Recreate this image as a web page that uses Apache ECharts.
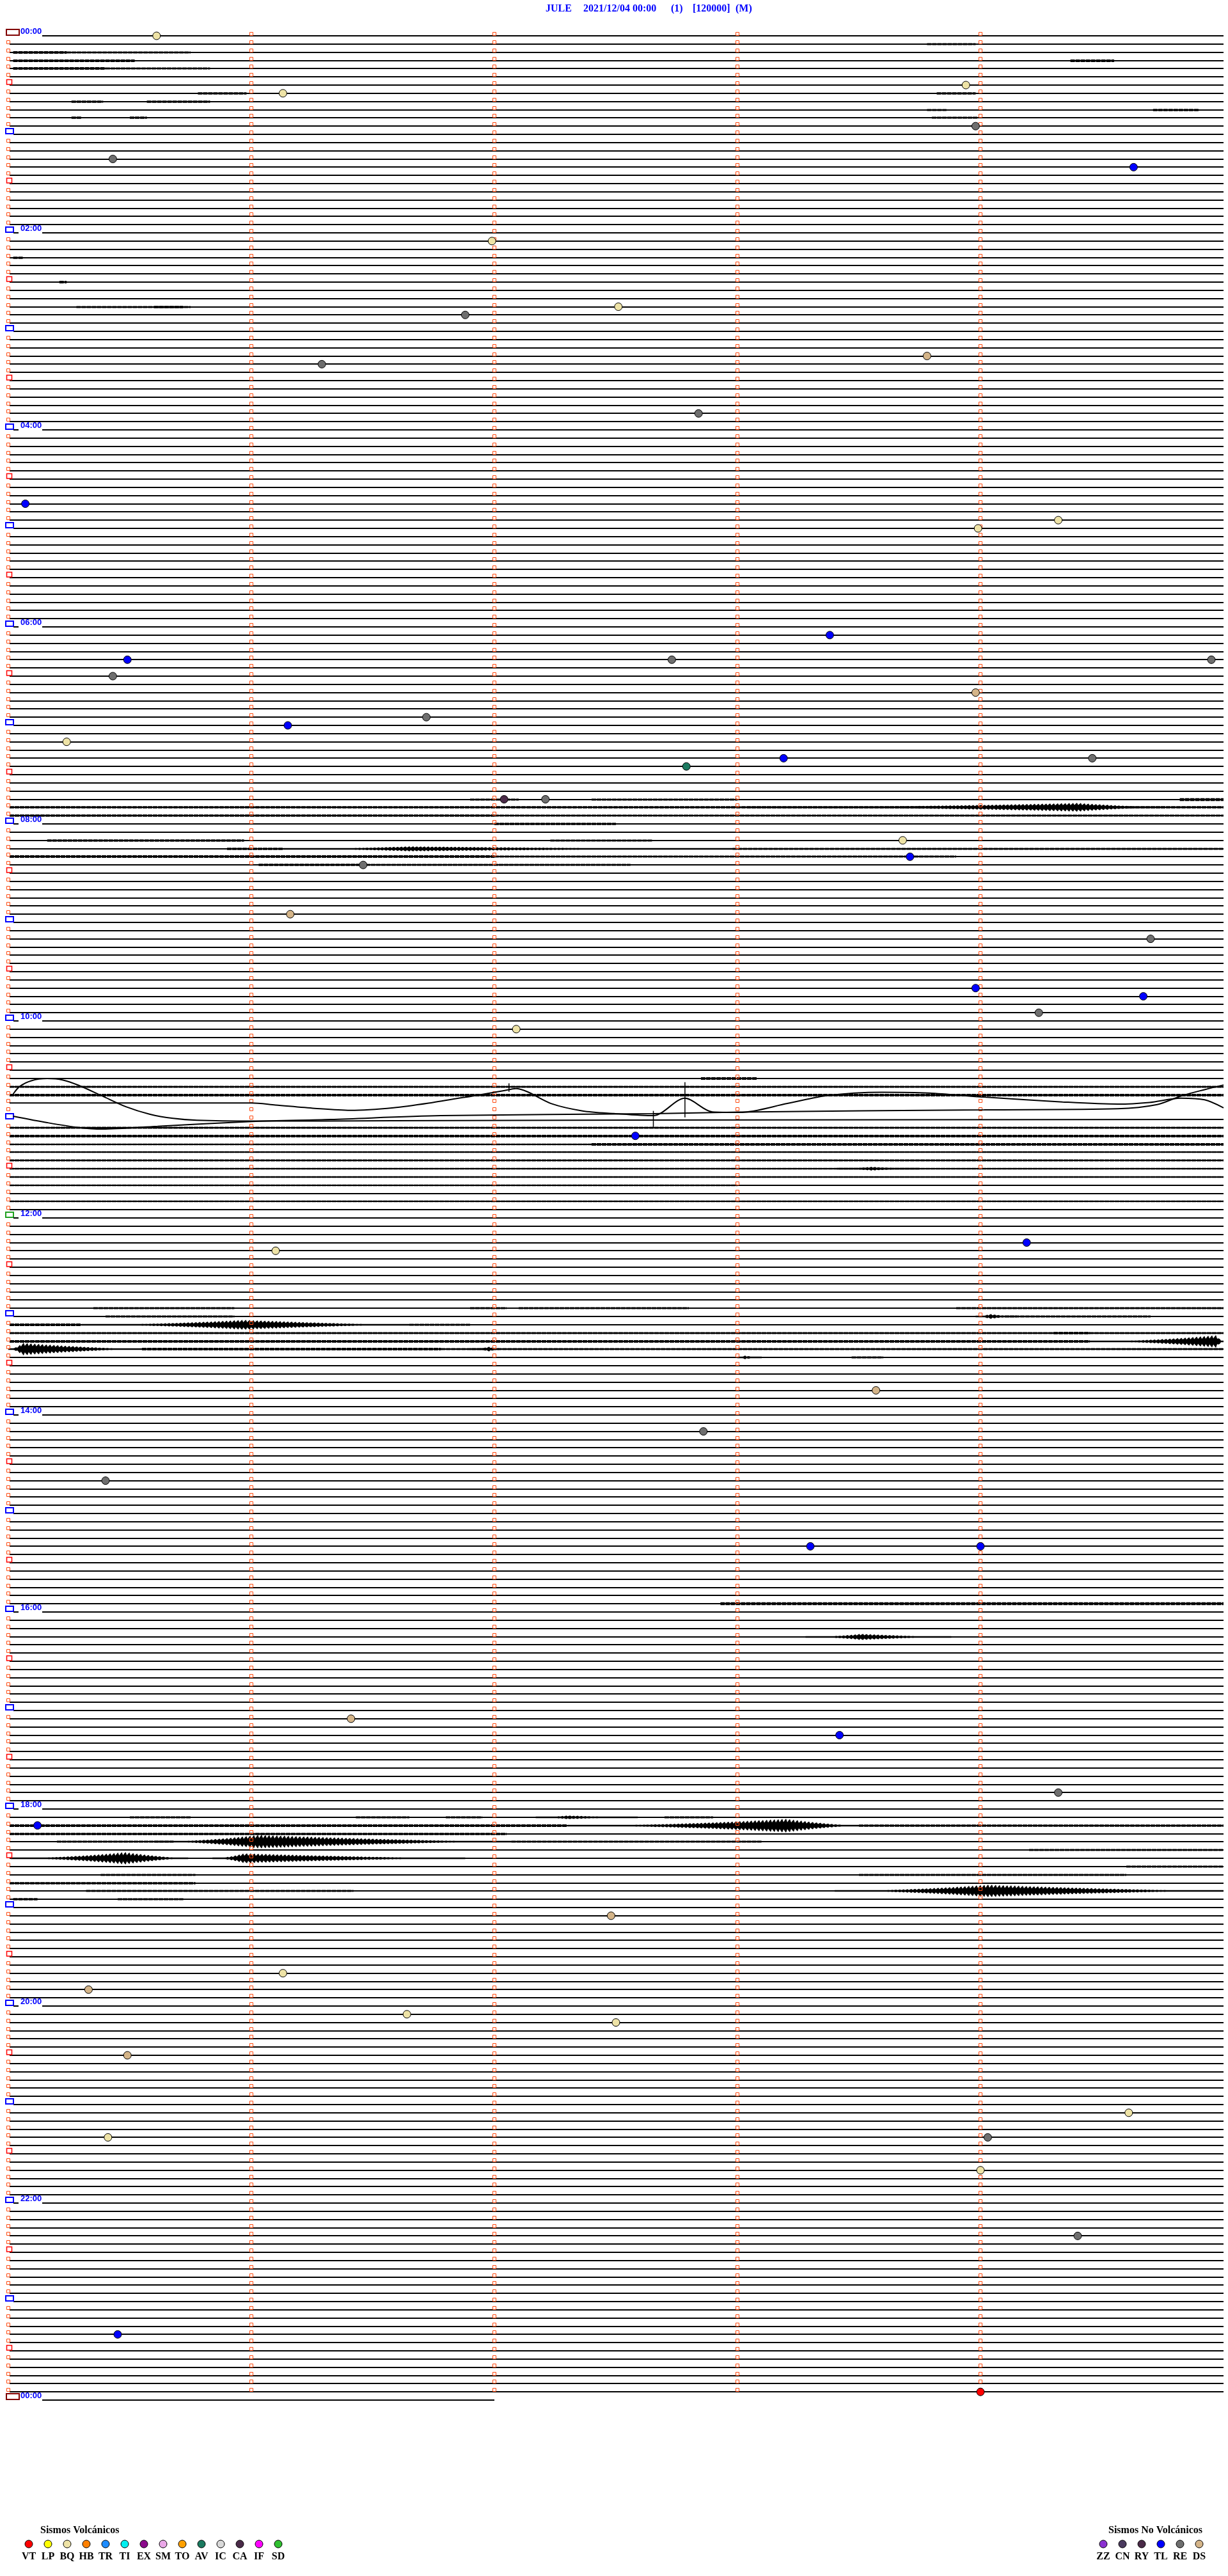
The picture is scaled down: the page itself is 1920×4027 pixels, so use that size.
<!DOCTYPE html>
<html><head><meta charset="utf-8">
<script src="https://cdn.jsdelivr.net/npm/echarts@6/dist/echarts.min.js"></script>
<style>html,body{margin:0;padding:0;background:#fff}#c{width:1920px;height:4027px}</style>
</head><body><div id="c"></div>
<script>
// ---------------- data ----------------
const ROWS = 288;            // 5-minute rows over 24 h (row 288 = next 00:00)
const ROW_MIN = 5;           // minutes per row
const lastRowEndMin = 2.0;   // the final row stops here
const hourLabels = ["00:00","02:00","04:00","06:00","08:00","10:00","12:00","14:00","16:00","18:00","20:00","22:00","00:00"];
const headerParts = ["JULE","2021/12/04 00:00","(1)","[120000]","(M)"];
const volcTitle = "Sismos Volcánicos";
const volcTypes  = ["VT","LP","BQ","HB","TR","TI","EX","SM","TO","AV","IC","CA","IF","SD"];
const volcColors = ["#FF0000","#FFFF00","#EEE3A6","#FF8000","#1E8CFF","#00F0F0","#8B0A8B","#EAA8E8","#FFA000","#1B7A60","#D8D8D8","#4A2A48","#FF00FF","#30C030"];
const novTitle = "Sismos No Volcánicos";
const novTypes  = ["ZZ","CN","RY","TL","RE","DS"];
const novColors = ["#8A30D0","#4A3A5E","#4A2A48","#0000FF","#6E6E6E","#D4B488"];

// events: minutes after 00:00, type
const eventTimes = [0.61,36.13,33.94,58.98,75.43,84.63,126.99,167.51,171.88,198.78,201.29,232.84,285.07,299.32,303.99,368.38,380.49,382.73,384.95,390.43,403.98,416.72,421.15,430.24,444.46,443.19,447.79,467.04,467.21,493.68,503.71,506.46,536.16,554.70,583.98,589.67,599.24,607.09,672.58,741.10,739.19,828.57,852.86,880.40,923.30,924.00,1026.41,1038.42,1074.32,1090.12,1147.48,1181.13,1190.33,1206.64,1212.50,1230.49,1269.61,1280.41,1284.03,1304.00,1344.40,1400.45,1439.00];
const eventKinds = ["BQ","BQ","BQ","RE","RE","TL","BQ","BQ","RE","DS","RE","RE","TL","BQ","BQ","TL","TL","RE","RE","RE","DS","RE","TL","BQ","RE","TL","AV","CA","RE","BQ","TL","RE","DS","RE","TL","TL","RE","BQ","TL","BQ","TL","DS","RE","RE","TL","TL","DS","TL","RE","TL","DS","BQ","DS","BQ","BQ","DS","BQ","BQ","RE","BQ","RE","TL","VT"];

// seismic bursts: [row, start min, peak min, end min, peak half-amplitude px]
const bursts = [
 [94,3.04,4.40,4.76,7],[99,1.13,1.65,2.98,4],[138,3.41,3.55,3.75,3],
 [156,3.98,4.04,4.15,4],[157,0.30,0.97,1.65,8],[159,4.45,4.97,5.0,10],[160,0.0,0.06,0.55,10],
 [160,1.90,1.98,2.02,4],[161,3.00,3.03,3.10,3],[195,3.28,3.51,3.88,5],
 [217,2.17,2.30,2.59,3],[218,2.30,3.20,3.50,11],[220,0.60,1.03,2.07,11],
 [222,0.01,0.48,0.74,10],[222,0.84,0.97,1.88,8],[226,3.40,4.03,5.0,10]
];
// background noise bands: [row, start min, end min, half-thickness px]
const noise = [
 [1,3.78,3.98,0.6],[2,0.02,0.24,1],[2,0.24,0.75,0.5],[3,0.02,0.52,1],[3,4.37,4.55,1],[4,0.02,0.40,1],[4,0.40,0.83,0.6],
 [7,0.78,0.98,0.8],[7,3.82,3.98,0.8],[8,0.26,0.39,0.8],[8,0.57,0.83,0.8],[9,3.78,3.86,0.6],[9,4.71,4.90,0.8],
 [10,0.26,0.30,0.8],[10,0.50,0.57,0.8],[10,3.80,3.99,0.6],
 [27,0.02,0.06,0.8],[30,0.21,0.24,1],[33,0.28,0.75,0.5],[33,0.6,0.72,0.8],
 [93,1.9,2.1,0.5],[93,2.4,3.0,0.6],[93,4.82,5.0,1.2],[94,0,5,0.8],[95,0,2.0,0.8],[95,2.0,5.0,0.4],[96,2.0,2.5,0.8],
 [98,0.16,0.97,0.8],[98,2.23,2.65,0.6],[99,0.9,1.13,0.8],[99,2.98,5.0,0.4],[100,0,2.0,0.9],[100,2.0,3.9,0.4],
 [101,1.03,1.45,0.8],[101,1.45,2.56,0.6],
 [127,2.85,3.08,1],[128,0,5,0.4],[129,0,5,1],[133,0,5,0.4],[134,0,5,1],[135,2.4,5,1],[135,0,2.4,0.3],
 [136,0,5,0.3],[137,0,5,0.5],[138,0,5,0.3],[139,0,5,0.3],[140,0,3,0.3],[142,0,5,0.3],
 [155,0.35,0.93,0.6],[155,1.9,2.05,0.6],[155,2.1,2.8,0.4],[155,3.9,5.0,0.4],[156,0.4,0.93,0.4],[156,4.1,4.7,0.4],
 [157,0,0.3,1],[157,1.65,1.9,0.6],[158,0,5,0.4],[158,4.3,4.45,0.8],[159,0,4.45,1],[160,0.55,1.78,1],[160,1.78,5,0.6],[161,3.47,3.6,0.6],
 [191,2.93,5.0,1.2],
 [217,0.5,0.75,0.6],[217,1.43,1.65,0.6],[217,1.8,1.95,0.5],[217,2.7,2.9,0.6],[218,0,2.3,1],[218,3.5,5,0.8],[219,0,2.05,0.7],
 [220,0.2,0.68,0.5],[220,2.07,3.1,0.4],[221,4.2,5.0,0.6],[223,4.6,5.0,0.6],[224,0.38,0.77,0.6],[224,3.5,4.6,0.4],
 [225,0,0.77,0.7],[226,0.32,1.42,0.6],[227,0.02,0.12,0.8],[227,0.45,0.72,0.5]
];
// long-period wave traces 10:50-11:05 (rows 130-132): [minute within row, row position]
const waveRows = [130,131,132];
const wave130 = [[0.005,130.0],[1.0,130.0],[1.099,130.24],[1.261,130.65],[1.407,130.89],[1.585,130.58],[1.747,129.93],[1.909,129.15],[2.039,128.5],[2.088,128.24],[2.136,128.63],[2.233,130.06],[2.363,130.96],[2.492,131.28],[2.654,131.54],[2.784,129.41],[2.897,131.09],[3.01,131.15],[3.205,130.06],[3.367,129.09],[3.594,128.68],[3.788,128.78],[4.015,129.28],[4.338,129.87],[4.565,130.13],[4.695,129.93],[4.824,129.41],[4.922,129.61],[5.0,130.58]];
const wave131 = [[0.02,131.61],[0.16,132.39],[0.29,132.99],[0.387,133.17],[0.614,132.83],[1.002,132.26],[1.326,132.0],[1.78,131.54],[2.654,131.3],[3.01,131.1],[4.015,130.83],[4.565,130.7],[4.727,130.19],[4.824,129.15],[4.922,128.37],[5.0,127.8]];
const wave132 = [[0.02,128.9],[0.047,127.98],[0.095,127.28],[0.16,127.02],[0.225,127.2],[0.29,127.85],[0.387,129.15],[0.484,130.45],[0.581,131.35],[0.678,131.87],[0.776,132.1],[1.0,132.2],[1.585,132.16],[2.557,132.08],[5.0,132.0]];
// sharp spikes on the wave: [minute, top row position, bottom row position]
const spikes = [[2.784,127.46,131.74],[2.654,130.96,133.04],[2.06,127.59,128.63]];

// ---------------- build ----------------
const burstByRow = {}, noiseByRow = {};
bursts.forEach(b => (burstByRow[b[0]] = burstByRow[b[0]] || []).push(b));
noise.forEach(n => (noiseByRow[n[0]] = noiseByRow[n[0]] || []).push(n));
const rowItems = [];
for (let r = 0; r <= ROWS; r++) rowItems.push([r]);

const SQ = '#FF4A10';
function renderRow(params, api) {
  const row = api.value(0);
  const p0 = api.coord([0, row]);
  const x0 = Math.round(p0[0]);
  const yb = Math.round(p0[1]);
  const y = yb;
  const ch = [];
  const isMidnight = row % ROWS === 0;
  const isEvenHour = row % 24 === 0;
  const isHour = row % 12 === 0;
  const isHalf = row % 6 === 0;
  let startPx = x0 + 2;
  if (isEvenHour) startPx = x0 + 53; else if (isHour) startPx = x0 + 8;
  const endMin = row === ROWS ? lastRowEndMin : ROW_MIN;
  const pe = api.coord([endMin, row]);
  // noise bands
  (noiseByRow[row] || []).forEach(n => {
    const a = api.coord([n[1], row]), b = api.coord([n[2], row]);
    const xa = Math.max(a[0], startPx);
    ch.push({type:'line', shape:{x1:xa, y1:y, x2:b[0], y2:y}, style:{stroke:'#000', lineWidth:2 + 2*n[3], lineDash:[7,1]}});
  });
  // bursts (amplitude envelope)
  (burstByRow[row] || []).forEach(b => {
    const top = [], bot = [];
    const a0 = api.coord([b[1], row])[0], a1 = api.coord([b[3], row])[0];
    const N = Math.max(4, Math.round((a1 - a0) / 2));
    for (let k = 0; k <= N; k++) {
      const m = b[1] + (b[3] - b[1]) * k / N;
      let f;
      if (m <= b[2]) f = b[2] > b[1] ? Math.pow((m - b[1]) / (b[2] - b[1]), 1.8) : 1;
      else f = Math.pow((b[3] - m) / (b[3] - b[2]), 1.4);
      const jag = (k % 3 === 0) ? 1 : (k % 3 === 1 ? 0.5 : 0.78);
      const amp = Math.max(1.2, b[4] * f * jag);
      const c = api.coord([m, row]);
      top.push([c[0], y - amp]);
      bot.push([c[0], y + amp]);
    }
    ch.push({type:'polygon', shape:{points: top.concat(bot.reverse())}, style:{fill:'#000'}});
  });
  // baseline (rows carrying the long-period wave are drawn by the wave series)
  if (waveRows.indexOf(row) < 0)
    ch.push({type:'line', shape:{x1:startPx, y1:y, x2:pe[0], y2:y}, style:{stroke:'#000', lineWidth:2}});
  // left markers
  if (isMidnight) {
    ch.push({type:'rect', shape:{x:x0-3, y:yb-10, width:20, height:9}, style:{fill:'none', stroke:'#800000', lineWidth:2}});
  } else if (isHour) {
    ch.push({type:'rect', shape:{x:x0-4, y:yb-9, width:12, height:8}, style:{fill:'none', stroke:(row===144?'#20A020':'#0000FF'), lineWidth:2}});
    if (isEvenHour) ch.push({type:'line', shape:{x1:x0+8, y1:y, x2:x0+16, y2:y}, style:{stroke:'#000', lineWidth:2}});
  } else if (isHalf) {
    ch.push({type:'rect', shape:{x:x0-2.5, y:yb-8.5, width:8, height:7.5}, style:{fill:'none', stroke:'#FF0000', lineWidth:1.5}});
  } else {
    ch.push({type:'rect', shape:{x:x0-2.5, y:yb-5.5, width:5, height:5}, style:{fill:'none', stroke:SQ, lineWidth:1}});
  }
  if (isEvenHour) {
    ch.push({type:'text', style:{text:hourLabels[row/24], x:x0+19, y:yb, fill:'#0000FF', font:'bold 13px "Liberation Sans", Arial, sans-serif', align:'left', verticalAlign:'bottom'}});
  }
  // minute squares
  if (row < ROWS) {
    for (let m = 1; m < ROW_MIN; m++) {
      const c = api.coord([m, row]);
      const cx = Math.round(c[0]);
      ch.push({type:'rect', shape:{x:cx-2.5, y:yb-5.5, width:5, height:5}, style:{fill:'none', stroke:SQ, lineWidth:1}});
    }
  }
  return {type:'group', children:ch};
}
function renderSpike(params, api) {
  const a = api.coord([api.value(0), api.value(1)]);
  const b = api.coord([api.value(0), api.value(2)]);
  return {type:'line', shape:{x1:a[0], y1:a[1], x2:b[0], y2:b[1]}, style:{stroke:'#000', lineWidth:1.5}};
}

const allTypes = volcTypes.concat(novTypes);
const allColors = volcColors.concat(novColors);
const eventSeries = allTypes.map((t, i) => ({
  type:'scatter', name:t, z:10, symbol:'circle', symbolSize:12,
  itemStyle:{color:allColors[i], borderColor:'#000', borderWidth:1, opacity:1},
  data: eventTimes.map((tm, k) => eventKinds[k] === t ? [tm - Math.floor(tm / ROW_MIN) * ROW_MIN, Math.floor(tm / ROW_MIN)] : null).filter(d => d),
  silent:true
}));
const waveSeries = [wave130, wave131, wave132].map(w => ({
  type:'line', data:w, smooth:0.3, showSymbol:false, z:3, silent:true,
  lineStyle:{color:'#000', width:2}
}));

// legend graphics
const graphics = [];
const hdrX = [853, 912, 1049, 1083, 1150];
headerParts.forEach((t, i) => graphics.push({type:'text', left:hdrX[i], top:6, style:{text:t, fill:'#0000FF', font:'bold 16px "Liberation Serif", "Times New Roman", serif'}}));
graphics.push({type:'text', left:63, top:3948, style:{text:volcTitle, fill:'#000', font:'bold 16px "Liberation Serif", serif'}});
volcTypes.forEach((t, i) => {
  const cx = 45 + 30 * i;
  graphics.push({type:'circle', shape:{cx:cx, cy:3977, r:6}, style:{fill:volcColors[i], stroke:'#000', lineWidth:1}});
  graphics.push({type:'text', x:cx, y:3997, style:{text:t, fill:'#000', font:'bold 16px "Liberation Serif", serif', align:'center', verticalAlign:'middle'}});
});
graphics.push({type:'text', left:1733, top:3948, style:{text:novTitle, fill:'#000', font:'bold 16px "Liberation Serif", serif'}});
novTypes.forEach((t, i) => {
  const cx = 1725 + 30 * i;
  graphics.push({type:'circle', shape:{cx:cx, cy:3977, r:6}, style:{fill:novColors[i], stroke:'#000', lineWidth:1}});
  graphics.push({type:'text', x:cx, y:3997, style:{text:t, fill:'#000', font:'bold 16px "Liberation Serif", serif', align:'center', verticalAlign:'middle'}});
});

const chart = echarts.init(document.getElementById('c'), null, {renderer:'canvas', width:1920, height:4027});
chart.setOption({
  animation:false,
  backgroundColor:'#fff',
  grid:{left:13, right:7, top:56, bottom:275},
  xAxis:{type:'value', min:0, max:ROW_MIN, show:false},
  yAxis:{type:'value', min:0, max:ROWS, inverse:true, show:false},
  graphic:graphics,
  series:[
    {type:'custom', renderItem:renderRow, data:rowItems, z:2, silent:true, clip:false},
    {type:'custom', renderItem:renderSpike, data:spikes, z:3, silent:true}
  ].concat(waveSeries).concat(eventSeries)
});
</script></body></html>
